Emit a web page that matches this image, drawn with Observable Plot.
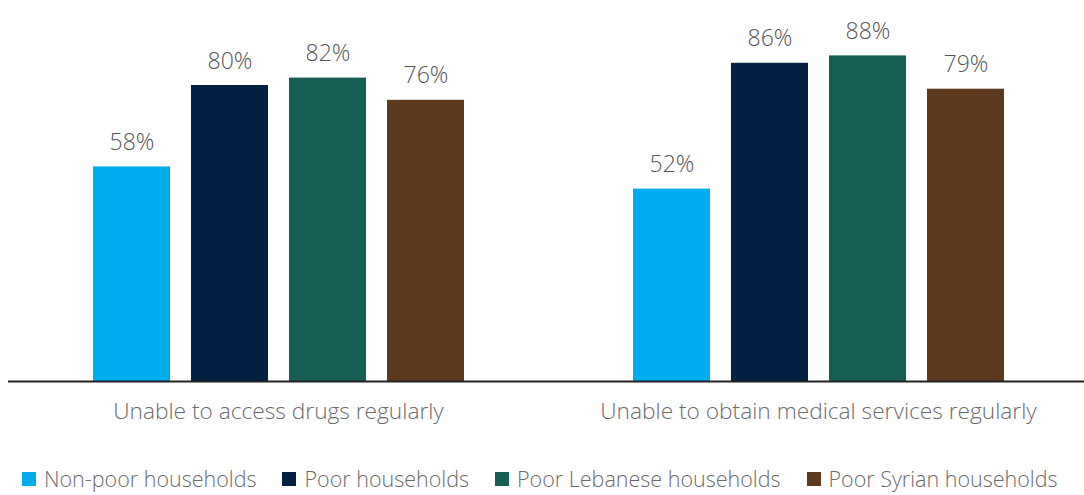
<!DOCTYPE html>
<html>
<head>
<meta charset="utf-8">
<script src="https://cdn.jsdelivr.net/npm/d3@7"></script>
<script src="https://cdn.jsdelivr.net/npm/@observablehq/plot@0.6"></script>
<style>
  html, body { margin: 0; padding: 0; background: #fff; }
  #chart { width: 1084px; height: 495px; overflow: hidden; font-family: "Open Sans", sans-serif; }
  #chart svg { display: block; }
  .legend { display: flex; align-items: center; height: 68px; padding-left: 22px; white-space: nowrap;
            font-size: 21.5px; line-height: 1; color: #6b6b6b; font-weight: 300; }
  .legend .item { display: flex; align-items: center; margin-right: 26px; }
  .legend .sw { width: 14px; height: 14px; margin-right: 8px; flex: none; }
</style>
</head>
<body>
<div id="chart"></div>
<script>
const categories = ["Unable to access drugs regularly", "Unable to obtain medical services regularly"];
const series = ["Non-poor households", "Poor households", "Poor Lebanese households", "Poor Syrian households"];
const drugsValues = [58, 80, 82, 76];
const medicalValues = [52, 86, 88, 79];
const colors = ["#00aeef", "#002142", "#175e54", "#5c391d"];

const data = [
  ...series.map((s, i) => ({category: categories[0], series: s, value: drugsValues[i]})),
  ...series.map((s, i) => ({category: categories[1], series: s, value: medicalValues[i]}))
];

const plot = Plot.plot({
  width: 1084,
  height: 445,
  marginLeft: 8,
  marginRight: -4,
  marginTop: 11,
  marginBottom: 64,
  style: {fontSize: "22.7px", fontFamily: "'Open Sans', sans-serif", color: "#6b6b6b", fontWeight: 300, background: "#fff", overflow: "hidden"},
  fx: {domain: categories, paddingInner: 0, paddingOuter: 0, label: null, axis: "bottom", tickSize: 0, tickPadding: 21},
  x: {domain: series, paddingInner: 0.217, paddingOuter: 0.839, axis: null},
  y: {domain: [0, 100], axis: null},
  color: {domain: series, range: colors},
  marks: [
    Plot.barY(data, {fx: "category", x: "series", y: "value", fill: "series"}),
    Plot.text(data, {fx: "category", x: "series", y: "value", text: d => d.value + "%", lineAnchor: "bottom", dy: -17, fill: "#555", fontSize: 23}),
    Plot.ruleY([0], {stroke: "#222", strokeWidth: 2})
  ]
});

const chart = document.getElementById("chart");
chart.appendChild(plot);

const legend = document.createElement("div");
legend.className = "legend";
series.forEach((s, i) => {
  const item = document.createElement("div");
  item.className = "item";
  const sw = document.createElement("span");
  sw.className = "sw";
  sw.style.background = colors[i];
  const label = document.createElement("span");
  label.textContent = s;
  item.appendChild(sw);
  item.appendChild(label);
  legend.appendChild(item);
});
chart.appendChild(legend);
</script>
</body>
</html>
